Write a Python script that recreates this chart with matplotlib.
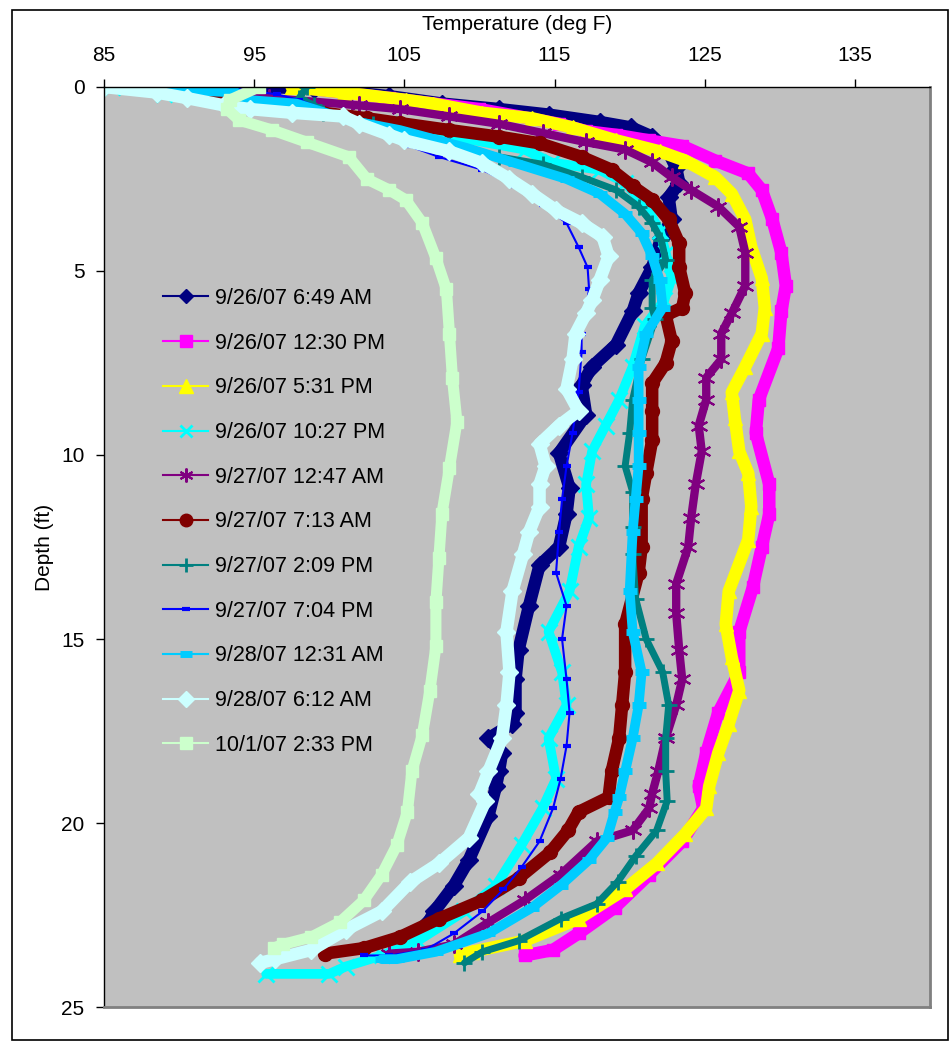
import matplotlib
matplotlib.use('Agg')
import matplotlib.pyplot as plt
from matplotlib.lines import Line2D
from matplotlib.patches import Rectangle

plt.rcParams['font.family'] = ['Liberation Sans', 'DejaVu Sans']

# depth (ft) / temperature (deg F)
labels = ['9/26/07 6:49 AM', '9/26/07 12:30 PM', '9/26/07 5:31 PM', '9/26/07 10:27 PM',
          '9/27/07 12:47 AM', '9/27/07 7:13 AM', '9/27/07 2:09 PM', '9/27/07 7:04 PM',
          '9/28/07 12:31 AM', '9/28/07 6:12 AM', '10/1/07 2:33 PM']

d_0926_0649 = [0, 0.05, 0.25, 0.45, 0.6, 0.75, 0.95, 1.1, 1.35, 1.7, 2.2, 2.6, 3.0, 3.6, 4.1, 4.9, 5.6, 6.1, 7.0,
               7.6, 8.1, 8.9, 9.95, 10.9, 11.6, 12.5, 13.0, 14.1, 15.3, 16.1, 17.0, 17.3, 17.7, 18.1, 18.6, 19.0,
               19.8, 21.0, 21.7, 22.4, 22.7]
t_0926_0649 = [96, 99, 104, 107.5, 111.3, 114.6, 118, 120.1, 121.5, 122.5, 123.1, 123.3, 122.6, 122.8, 122.1, 121.5,
               120.6, 120.2, 119.1, 117.5, 116.8, 117.1, 115.3, 116, 115.8, 115.3, 114, 113.3, 112.6, 112.4, 112.4,
               112.2, 110.6, 111.5, 111.3, 111.1, 110.6, 109.3, 108.3, 107.0, 106.6]

d_0926_1230 = [0, 0.3, 0.6, 1.0, 1.2, 1.3, 1.45, 1.6, 2.0, 2.35, 2.8, 3.6, 4.5, 5.4, 6.1, 7.1, 8.5, 9.4, 10.8, 11.6,
               12.5, 13.6, 14.8, 15.9, 17.0, 18.1, 19.0, 19.6, 20.5, 21.4, 22.3, 23.0, 23.45, 23.6]
t_0926_1230 = [97.8, 104, 110, 115.3, 117.1, 119.1, 121.3, 123.5, 125.7, 127.9, 128.8, 129.5, 130.1, 130.4, 130.1,
               129.9, 128.6, 128.4, 129.3, 129.3, 128.8, 128.2, 127.3, 127.3, 125.9, 125.1, 124.6, 124.9, 123.5,
               121.3, 119, 116.6, 114.9, 113]

d_0926_0531 = [0, 0.15, 0.35, 0.45, 0.7, 0.85, 1.1, 1.45, 1.75, 2.0, 2.45, 2.9, 3.6, 4.35, 5.2, 6.0, 6.7, 7.6, 8.3,
               9.0, 9.9, 10.5, 11.4, 12.3, 13.7, 14.6, 15.5, 16.4, 17.3, 18.1, 19.0, 19.6, 20.3, 21.1, 21.8, 22.6,
               23.2, 23.5, 23.6]
t_0926_0531 = [97.5, 101, 105.1, 106.9, 110.2, 113.5, 116.2, 119.1, 122, 123.7, 125.7, 126.8, 127.7, 128.1, 128.8,
               129, 128.8, 127.7, 126.8, 127, 127.3, 127.9, 128.1, 127.9, 126.6, 126.4, 126.8, 127.3, 126.6, 125.9,
               125.3, 125.1, 123.7, 121.8, 119.7, 116.6, 113, 109.5, 108.7]

d_0926_1027 = [0, 0.2, 0.5, 1.0, 1.4, 1.7, 2.05, 2.25, 2.6, 3.25, 3.9, 4.5, 5.2, 5.8, 6.5, 7.6, 8.5, 9.2, 9.9, 10.8,
               11.7, 12.5, 13.7, 14.8, 15.9, 16.8, 17.7, 18.8, 19.6, 20.6, 21.7, 22.4, 23.2, 23.6, 23.9, 24.1, 24.1]
t_0926_1027 = [85.5, 89, 96, 104, 109, 113, 114.8, 118, 119.7, 121.1, 122, 122.4, 122.8, 122.3, 121.0, 120.2, 119.3,
               118.4, 117.5, 117.1, 117.3, 116.6, 116, 114.6, 115.5, 115.8, 114.6, 115.1, 114.2, 112.8, 111.1, 109,
               105.9, 103.5, 101.1, 100, 95.8]

d_0927_1247 = [0, 0.05, 0.3, 0.5, 0.6, 0.8, 1.0, 1.25, 1.5, 1.7, 2.05, 2.45, 2.8, 3.25, 3.8, 4.5, 5.4, 6.15, 6.7, 7.4,
               7.9, 8.5, 9.2, 9.9, 10.8, 11.7, 12.5, 13.5, 14.3, 15.3, 16.1, 16.8, 17.7, 18.6, 19.2, 19.6, 20.2,
               20.5, 21.4, 22.1, 22.7, 23.3, 23.5, 23.55]
t_0927_1247 = [88.5, 92.5, 96, 102, 104.7, 108, 111.3, 114.2, 117.1, 119.7, 121.5, 122.8, 124.1, 125.9, 127.3, 127.7,
               127.7, 126.8, 126.1, 126.1, 125.1, 125.1, 124.6, 124.8, 124.4, 124.1, 123.9, 123.1, 123.1, 123.3,
               123.5, 123.1, 122.4, 121.9, 121.5, 121.3, 120.2, 117.8, 115.4, 113, 110.6, 108.3, 105.9, 104]

d_0927_0713 = [0.1, 0.35, 0.5, 0.7, 0.85, 0.98, 1.17, 1.35, 1.53, 1.9, 2.25, 2.7, 3.07, 3.6, 4.25, 4.9, 5.6, 6.0,
               6.2, 6.9, 7.5, 8.05, 8.8, 9.6, 10.5, 11.2, 12.5, 13.2, 14.6, 15.9, 16.8, 17.7, 18.6, 19.3, 19.7,
               20.2, 20.8, 21.5, 22.1, 22.6, 23.1, 23.4, 23.55]
t_0927_0713 = [88.5, 93.4, 95, 99.6, 102.5, 104.7, 108, 111.3, 114, 116.8, 118.8, 120.2, 121.5, 122.6, 123.3, 123.3,
               123.7, 123.5, 122.4, 122.8, 122.4, 121.5, 121.5, 121.5, 121.1, 120.8, 120.8, 120.6, 119.7, 119.7,
               119.5, 119.3, 118.8, 118.6, 116.6, 115.9, 114.7, 112.6, 110.2, 107.3, 104.7, 102.3, 99.7]

d_0927_0209 = [0, 0.3, 0.5, 0.7, 1.0, 1.3, 1.58, 1.9, 2.1, 2.45, 2.8, 3.25, 3.7, 4.15, 4.7, 5.25, 6.0, 6.3, 7.4, 8.5,
               9.4, 10.3, 11.0, 11.95, 12.7, 13.9, 15.0, 15.9, 16.8, 17.7, 18.6, 19.4, 20.2, 20.9, 21.6, 22.2, 22.6,
               23.2, 23.5, 23.8]
t_0927_0209 = [98.5, 98, 99, 99.6, 102.9, 104.7, 108, 111.3, 114.2, 116.8, 119.1, 120.6, 121.5, 122.1, 122.4, 121.5,
               121.5, 121.7, 120.8, 120.2, 120, 119.7, 120.2, 120.2, 120.2, 120.4, 121.1, 122.2, 122.6, 122.4, 122.4,
               122.5, 121.8, 120.4, 119.2, 117.8, 115.4, 112.6, 110.2, 109.0]

d_0927_0704 = [0, 0.2, 0.35, 0.8, 1.2, 1.6, 1.9, 2.25, 2.7, 3.2, 3.7, 4.35, 4.9, 5.5, 6.7, 7.2, 8.3, 9.4, 10.3, 11.2,
               12.1, 13.2, 14.1, 15.0, 16.1, 17.0, 17.9, 18.8, 19.6, 20.5, 21.2, 21.8, 22.4, 23.0, 23.45, 23.6, 23.6]
t_0927_0704 = [93, 96.5, 98, 101, 103.5, 105.3, 107.3, 110.2, 112.4, 114.2, 115.8, 116.6, 117.2, 117.3, 116.8, 116.8,
               116.6, 116.2, 115.8, 115.5, 115.3, 115.1, 115.8, 115.5, 115.8, 116, 115.8, 115.4, 114.9, 114, 112.8,
               111.6, 110.2, 108.3, 106.4, 104, 102.3]

d_0928_1231 = [0.05, 0.15, 0.35, 0.45, 0.9, 1.17, 1.65, 2.07, 2.5, 2.9, 3.45, 3.97, 4.6, 5.25, 6.0, 6.7, 7.6, 8.5,
               9.4, 10.3, 11.2, 12.1, 13.7, 14.8, 15.9, 16.8, 17.7, 18.6, 19.3, 19.7, 20.4, 21.0, 21.7, 22.3, 23.0,
               23.5, 23.7, 23.7]
t_0928_1231 = [88.5, 93.8, 94.5, 97.8, 101.3, 104.7, 109.1, 112.4, 115.8, 118, 119.7, 120.8, 121.5, 122, 122.2,
               121.1, 120.6, 120.6, 120.6, 120.6, 120.4, 120.2, 120, 120.2, 120.8, 120.6, 120.2, 119.7, 119.3, 119,
               118.5, 117.3, 115.4, 113.5, 110.6, 107.1, 104.5, 103.5]

d_0928_0612 = [0, 0.15, 0.3, 0.5, 0.6, 0.7, 0.8, 1.0, 1.3, 1.45, 1.75, 2.07, 2.5, 2.9, 3.35, 3.7, 4.07, 4.6, 5.25,
               5.8, 6.15, 6.7, 7.4, 8.2, 8.8, 9.2, 9.7, 10.3, 10.8, 11.4, 12.1, 12.7, 13.7, 14.8, 15.9, 16.8, 17.7,
               18.6, 19.2, 19.4, 20.4, 21.1, 21.6, 22.4, 22.9, 23.45, 23.7, 23.8]
t_0928_0612 = [85, 88.5, 90.5, 93, 94.7, 97.5, 100.9, 102, 104, 105, 108, 110.2, 112, 113.5, 115.1, 116.8, 118.2,
               118.6, 118, 117.5, 117.1, 116.4, 116.2, 115.8, 116.6, 115.3, 114, 114.4, 114, 114, 113.3, 112.9,
               112.2, 111.8, 112, 111.8, 111.5, 110.6, 110, 110.4, 109.3, 107.3, 105.4, 103.5, 101.1, 98.8, 96.4,
               95.4]

d_1001_0233 = [0, 0.35, 0.6, 0.9, 1.17, 1.5, 1.9, 2.5, 2.8, 3.07, 3.7, 4.65, 5.5, 6.7, 7.9, 9.1, 10.35, 11.6, 12.8,
               14.0, 15.2, 16.4, 17.6, 18.6, 19.7, 20.6, 21.4, 22.1, 22.7, 23.1, 23.3, 23.4]
t_1001_0233 = [95.3, 93.4, 93.2, 94, 96.2, 98.5, 101.3, 102.5, 104, 105.1, 106.2, 107.1, 107.8, 108, 108.2, 108.5,
               108, 107.5, 107.3, 107.1, 107.1, 106.7, 106.2, 105.5, 105.2, 104.5, 103.5, 102.3, 100.7, 98.8, 96.9,
               96.3]

depths = [d_0926_0649, d_0926_1230, d_0926_0531, d_0926_1027, d_0927_1247, d_0927_0713,
          d_0927_0209, d_0927_0704, d_0928_1231, d_0928_0612, d_1001_0233]
temps = [t_0926_0649, t_0926_1230, t_0926_0531, t_0926_1027, t_0927_1247, t_0927_0713,
         t_0927_0209, t_0927_0704, t_0928_1231, t_0928_0612, t_1001_0233]

# style: colour, marker, marker size, band width, marker edge width
styles = [
    ('#000080', 'D', 9, 9, 1),
    ('#FF00FF', 's', 9, 9, 1),
    ('#FFFF00', '^', 10, 9, 1),
    ('#00FFFF', 'x', 11, 7, 2),
    ('#800080', (6, 2, 0), 13, 6, 1.5),
    ('#800000', 'o', 10, 9, 1),
    ('#008080', '+', 12, 5, 2),
    ('#0000FF', '_', 6, 1.5, 3),
    ('#00CCFF', '_', 10, 7, 5),
    ('#CCFFFF', 'D', 9, 9, 1),
    ('#CCFFCC', 's', 8, 8, 1),
]
legend_ms = [7, 8, 10, 9, 10, 9, 10, 6, 8, 8, 8]

fig = plt.figure(figsize=(9.53, 10.44), dpi=100)
ax = fig.add_axes([104 / 953, 1 - 1007 / 1044, 826 / 953, 920 / 1044])
ax.set_facecolor('#C0C0C0')

for dd, tt, (c, m, ms, lw, mew) in zip(depths, temps, styles):
    ax.plot(tt, dd, color=c, lw=lw, marker=m, ms=ms, mfc=c, mec=c, mew=mew,
            solid_joinstyle='round', solid_capstyle='round')

ax.set_xlim(85, 140)
ax.set_ylim(25, 0)
ax.set_xticks(range(85, 140, 10))
ax.set_yticks(range(0, 26, 5))
ax.xaxis.tick_top()
ax.xaxis.set_label_position('top')
ax.tick_params(axis='x', direction='out', length=6, width=1, labelsize=15, pad=9.5)
ax.tick_params(axis='y', direction='out', length=6, width=1, labelsize=15, pad=8)
ax.set_xlabel('Temperature (deg F)', fontsize=15, labelpad=12)
ax.set_ylabel('Depth (ft)', fontsize=15, labelpad=5)
for s in ['top', 'left']:
    ax.spines[s].set_color('black')
    ax.spines[s].set_linewidth(1)
for s in ['right', 'bottom']:
    ax.spines[s].set_color('#808080')
    ax.spines[s].set_linewidth(2)

handles = [Line2D([], [], color=c, lw=1.5, marker=m, ms=lm, mfc=c, mec=c, mew=mew if mew > 1 else 1)
           for (c, m, ms, lw, mew), lm in zip(styles, legend_ms)]
ax.legend(handles, labels, loc='upper left', bbox_to_anchor=((163 - 104) / 826, 1 - (288 - 87) / 920),
          frameon=False, fontsize=15.5, handlelength=2.1, handletextpad=0.3, labelspacing=1.1,
          borderpad=0, borderaxespad=0)

fig.patches.append(Rectangle((12 / 953, 1 - 1040 / 1044), 936 / 953, 1030 / 1044, transform=fig.transFigure,
                             fill=False, ec='black', lw=1.2))

fig.savefig('out.png', dpi=100)
